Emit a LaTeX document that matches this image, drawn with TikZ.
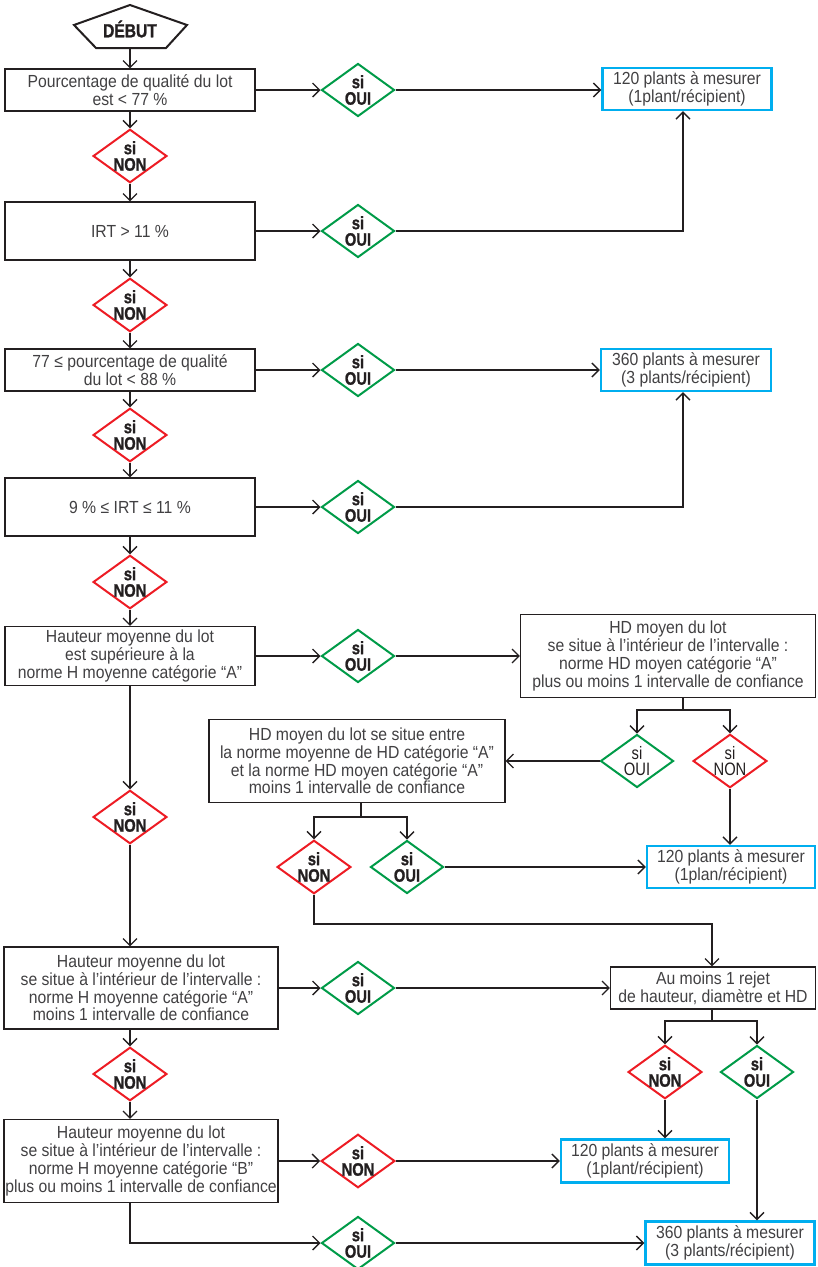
\documentclass[tikz,border=0pt]{standalone}
\usepackage{fontspec}
\setmainfont{Liberation Sans}[FakeStretch=0.9]
\newfontfamily\sicond{Liberation Sans}[FakeStretch=0.82,BoldFeatures={FakeBold=1.2}]
\usepackage{xcolor}
\usepackage{tikz}
\usetikzlibrary{arrows.meta,
	shapes.geometric}

\definecolor{lineblack}{RGB}{35,31,32}
\definecolor{txtgrey}{RGB}{65,64,66}
\definecolor{ouigreen}{RGB}{0,155,72}
\definecolor{nonred}{RGB}{237,28,36}
\definecolor{resblue}{RGB}{0,174,239}

\begin{document}
\begin{tikzpicture}[x=1pt,y=-1pt,
        >={Straight Barb[length=7pt,width=14pt]},
        line width=1.3pt,color=lineblack,
        box/.style={draw,line width=1.1pt,minimum width=250pt,minimum height=42pt,
            inner sep=0pt,align=center,text=txtgrey,font=\fontsize{17.5}{17.7}\selectfont},
        res/.style={box,draw=resblue,line width=2.4pt,minimum width=168pt},
        oui/.style={diamond,draw=ouigreen,line width=2pt,aspect=1.38,
            minimum width=73pt,minimum height=53pt,inner sep=0pt,align=center,
            text=lineblack,font=\sicond\bfseries\fontsize{18}{16.5}\selectfont},
        non/.style={oui,draw=nonred},
        ouil/.style={oui,font=\sicond\fontsize{18}{16.5}\selectfont},
        nonl/.style={ouil,draw=nonred}]
        \useasboundingbox (0,0) rectangle (817,1267);

        %DEBUT
        \draw[line width=2pt] (130,5)--(187,25)--(166,48)--(96,48)--(74,25)--cycle;
        \node[font=\sicond\bfseries\fontsize{19}{19}\selectfont,text=lineblack,
            minimum height=38pt,inner sep=0pt] (debut) at (130,29) {DÉBUT};

        %left column
        \node[box] (b1) at (130,90) {Pourcentage de qualité du lot\\est < 77 \%};
        \node[non] (non1) at (130,156) {si\\NON};
        \node[box,minimum height=58pt] (b2) at (130,231) {IRT > 11 \%};
        \node[non] (non2) at (130,305) {si\\NON};
        \node[box] (b3) at (130,370) {77 ≤ pourcentage de qualité\\du lot < 88 \%};
        \node[non] (non3) at (130,435) {si\\NON};
        \node[box,minimum height=58pt] (b4) at (130,507) {9 \% ≤ IRT ≤ 11 \%};
        \node[non] (non4) at (130,582) {si\\NON};
        \node[box,minimum height=59pt] (b5) at (130,656) {Hauteur moyenne du lot\\est supérieure à la\\norme H moyenne catégorie “A”};
        \node[non] (non5) at (130,817) {si\\NON};
        \node[box,minimum width=274pt,minimum height=82pt] (b6) at (141,988) {Hauteur moyenne du lot\\se situe à l’intérieur de l’intervalle :\\norme H moyenne catégorie “A”\\moins 1 intervalle de confiance};
        \node[non] (non6) at (130,1074) {si\\NON};
        \node[box,minimum width=274pt,minimum height=83pt] (b7) at (141,1161) {Hauteur moyenne du lot\\se situe à l’intérieur de l’intervalle :\\norme H moyenne catégorie “B”\\plus ou moins 1 intervalle de confiance};

        %si OUI column
        \node[oui] (oui1) at (358,90) {si\\OUI};
        \node[oui] (oui2) at (358,231) {si\\OUI};
        \node[oui] (oui3) at (358,370) {si\\OUI};
        \node[oui] (oui4) at (358,507) {si\\OUI};
        \node[oui] (oui5) at (358,656) {si\\OUI};
        \node[oui] (oui6) at (358,988) {si\\OUI};
        \node[non] (non7) at (358,1161) {si\\NON};
        \node[oui] (oui8) at (358,1243) {si\\OUI};

        %results
        \node[res,minimum width=169pt] (res1) at (687,89) {120 plants à mesurer\\(1plant/récipient)};
        \node[res,minimum width=170pt] (res2) at (686,370) {360 plants à mesurer\\(3 plants/récipient)};
        \node[res] (res3) at (731,867) {120 plants à mesurer\\(1plan/récipient)};
        \node[res,minimum height=43pt] (res4) at (645,1161) {120 plants à mesurer\\(1plant/récipient)};
        \node[res,minimum width=169pt,minimum height=43pt] (res5) at (730,1243) {360 plants à mesurer\\(3 plants/récipient)};

        %HD
        \node[box,minimum width=295pt,minimum height=83pt] (hd) at (668,656) {HD moyen du lot\\se situe à l’intérieur de l’intervalle :\\norme HD moyen catégorie “A”\\plus ou moins 1 intervalle de confiance};
        \node[ouil] (lOui) at (637,761) {si\\OUI};
        \node[nonl] (lNon) at (730,761) {si\\NON};
        \node[box,minimum width=296pt,minimum height=83pt] (hd2) at (357,761) {HD moyen du lot se situe entre\\la norme moyenne de HD catégorie “A”\\et la norme HD moyen catégorie “A”\\moins 1 intervalle de confiance};
        \node[non] (bNon) at (314,867) {si\\NON};
        \node[oui] (bOui) at (407,867) {si\\OUI};

        %rejet
        \node[box,minimum width=205pt] (am) at (713,988) {Au moins 1 rejet\\de hauteur, diamètre et HD};
        \node[non] (amNon) at (665,1072) {si\\NON};
        \node[oui] (amOui) at (757,1072) {si\\OUI};

        \coordinate (hdfork) at (683,710);
        \coordinate (hd2fork) at (361,817);
        \coordinate (amturn) at (712,924);
        \coordinate (amfork) at (712,1021);

        %down the left
        \draw [->] (debut)--(b1);
        \draw [->] (b1)--(non1);
        \draw [->] (non1)--(b2);
        \draw [->] (b2)--(non2);
        \draw [->] (non2)--(b3);
        \draw [->] (b3)--(non3);
        \draw [->] (non3)--(b4);
        \draw [->] (b4)--(non4);
        \draw [->] (non4)--(b5);
        \draw [->] (b5)--(non5);
        \draw [->] (non5)--(non5 |- b6.north);
        \draw [->] (non6 |- b6.south)--(non6);
        \draw [->] (non6)--(non6 |- b7.north);

        %to the right
        \draw [->] (b1)--(oui1);
        \draw [->] (b2)--(oui2);
        \draw [->] (b3)--(oui3);
        \draw [->] (b4)--(oui4);
        \draw [->] (b5)--(oui5);
        \draw [->] (b6)--(oui6);
        \draw [->] (b7)--(non7);
        \draw [->] (non6 |- b7.south) |- (oui8);

        \draw [->] (oui1)--(oui1 -| res1.west);
        \draw [->] (oui2) -| ([xshift=-4pt]res1.south);
        \draw [->] (oui3)--(res2);
        \draw [->] (oui4) -| ([xshift=-3pt]res2.south);
        \draw [->] (oui5)--(hd);
        \draw [->] (oui6)--(am);
        \draw [->] (non7)--(res4);
        \draw [->] (oui8)--(res5);

        %HD fork
        \draw (hd.south -| hdfork)--(hdfork);
        \draw [->] (hdfork) -| (lOui);
        \draw [->] (hdfork) -| (lNon);
        \draw [->] (lOui)--(hd2);
        \draw [->] (lNon)--(lNon |- res3.north);

        %HD2 fork
        \draw (hd2.south -| hd2fork)--(hd2fork);
        \draw [->] (hd2fork) -| (bNon);
        \draw [->] (hd2fork) -| (bOui);
        \draw [->] (bOui)--(res3);
        \draw [->] (bNon) |- (amturn)--(amturn |- am.north);

        %rejet fork
        \draw (am.south -| amfork)--(amfork);
        \draw [->] (amfork) -| (amNon);
        \draw [->] (amfork) -| (amOui);
        \draw [->] (amNon)--(amNon |- res4.north);
        \draw [->] (amOui)--(amOui |- res5.north);

    \end{tikzpicture}
\end{document}
